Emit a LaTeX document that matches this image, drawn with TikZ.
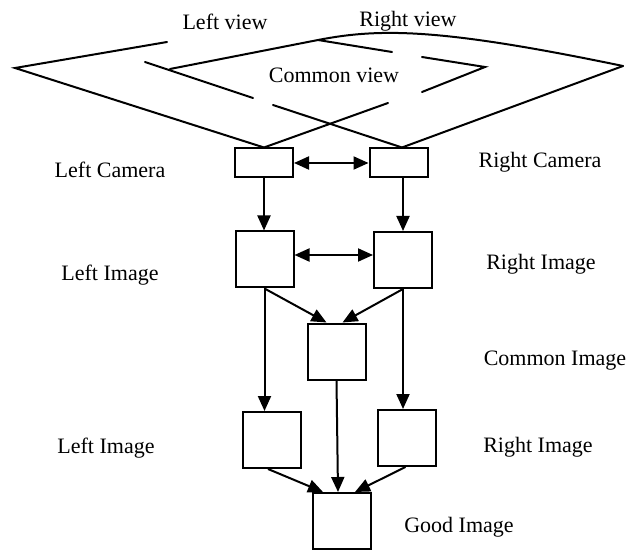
\documentclass[tikz,border=0pt]{standalone}
\usepackage{fontspec}
\setmainfont{Liberation Serif}
\usetikzlibrary{arrows.meta}
\begin{document}
\begin{tikzpicture}[x=1pt,y=-1pt,
  line width=2pt,
  box/.style={draw, line width=2pt, minimum width=58pt, minimum height=56pt, inner sep=0pt},
  cambox/.style={box, minimum height=29pt},
  lbl/.style={font=\fontsize{22}{26}\selectfont, inner sep=0pt, anchor=base},
  flow/.style={-{Triangle[length=15pt,width=13pt]}},
  twoway/.style={{Triangle[length=15pt,width=13pt]}-{Triangle[length=15pt,width=13pt]}},
  ray/.style={line width=2pt, line cap=round},
]
\useasboundingbox (0,0) rectangle (629,553);

% cameras and image boxes
\node[cambox] (lcam) at (264,163) {};
\node[cambox] (rcam) at (398.5,163) {};
\node[box] (limg) at (264.5,259.5) {};
\node[box] (rimg) at (403,260) {};
\node[box] (cimg) at (336.5,351.5) {};
\node[box] (limg2) at (272,440) {};
\node[box] (rimg2) at (406.5,438) {};
\node[box] (good) at (342,521) {};

% labels
\node[lbl] (tlview) at (225,30) {Left view};
\node[lbl] (trview) at (408,27) {Right view};
\node[lbl] (tcview) at (334,83) {Common view};
\node[lbl] (tlcam) at (110,178) {Left Camera};
\node[lbl] (trcam) at (540,168) {Right Camera};
\node[lbl] (tlimg) at (110,280) {Left Image};
\node[lbl] (trimg) at (541,270) {Right Image};
\node[lbl] (tcimg) at (555,365) {Common Image};
\node[lbl] (tlimg2) at (106,453) {Left Image};
\node[lbl] (trimg2) at (538,452) {Right Image};
\node[lbl] (tgood) at (459,532) {Good Image};

% fields of view
\coordinate (rtop) at ([xshift=3.5pt]rcam.north);
\coordinate (lapex) at (15,68);
\coordinate (rapex) at (623,66);
\coordinate (capex) at (485,67);
\coordinate (rjoin) at (318,40);

\draw[ray] (lcam.north) -- (lapex) -- (167,42);
\draw[ray] (lcam.north) -- (388,103);
\draw[ray] (422,92) -- (capex) -- (422,57);
\draw[ray] (rjoin) -- (392,52);
\draw[ray] (170,69) -- (rjoin);
\draw[ray] (rjoin) .. controls (380,28) and (440,28) .. (rapex);
\draw[ray] (rtop) -- (rapex);
\draw[ray] (rtop) -- (273,105);
\draw[ray] (253,98) -- (145,62);

% processing flow
\draw[twoway] (lcam.east) -- (rcam.west);
\draw[flow] (lcam.south) -- (lcam.south |- limg.north);
\draw[flow] (rimg.north |- rcam.south) -- (rimg.north);
\draw[twoway] ([yshift=4.5pt]limg.east) -- ([yshift=4.5pt]limg.east -| rimg.west);
\draw[flow] (limg.south) -- ([xshift=-10pt]cimg.north);
\draw[flow] (rimg.south) -- ([xshift=6pt]cimg.north);
\draw[flow] (limg.south) -- (limg.south |- limg2.north);
\draw[flow] (rimg.south) -- (rimg.south |- rimg2.north);
\draw[flow] (cimg.south) -- ([xshift=-4pt]good.north);
\draw[flow] ([xshift=-4pt]limg2.south) -- ([xshift=-19pt]good.north);
\draw[flow] ([xshift=-1pt]rimg2.south) -- ([xshift=13pt]good.north);
\end{tikzpicture}
\end{document}
